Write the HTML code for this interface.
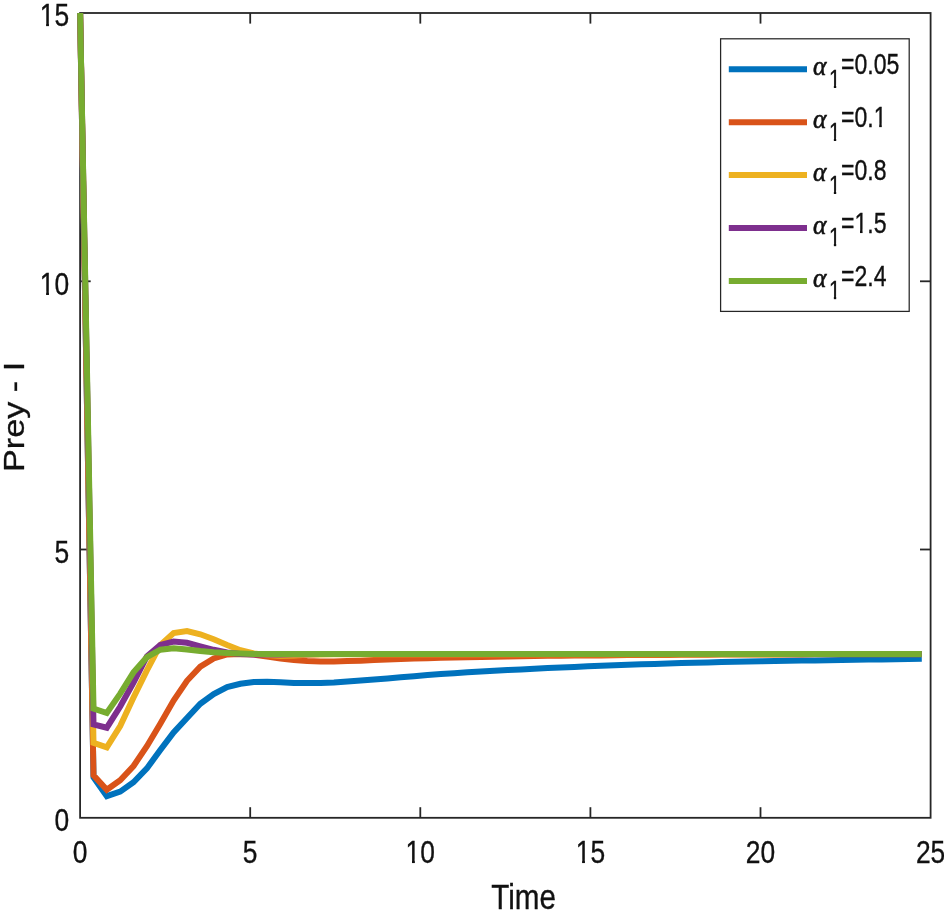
<!DOCTYPE html>
<html lang="en"><head><meta charset="utf-8"><title>Prey - I vs Time</title>
<style>html,body{margin:0;padding:0;background:#fff;}svg{display:block;}text{font-family:"Liberation Sans",Arial,Helvetica,sans-serif;fill:#111111;stroke:#111111;stroke-width:0.35px;}text.al{font-family:"Liberation Serif","DejaVu Serif",serif;font-style:italic;stroke-width:0.6px;}</style></head><body>
<svg width="944" height="920" viewBox="0 0 944 920">
<rect x="0" y="0" width="944" height="920" fill="#ffffff"/>
<defs><clipPath id="ax"><rect x="77.1" y="13.0" width="856.5" height="804.8"/></clipPath><clipPath id="c0"><path d="M-22.52 -31.50H22.52V-3.35H-22.52ZM-9.90 -3.85H-6.52V0.40H-9.90ZM-0.20 -3.85H17.72V12.60H-0.20Z"/></clipPath><clipPath id="c1"><path d="M-22.52 -31.50H22.52V-3.35H-22.52ZM-9.90 -3.85H-6.52V0.40H-9.90ZM-0.20 -3.85H17.72V12.60H-0.20Z"/></clipPath><clipPath id="c2"><path d="M-40.04 -31.50H5.00V-3.35H-40.04ZM-27.42 -3.85H-24.04V0.40H-27.42ZM-17.72 -3.85H0.20V12.60H-17.72Z"/></clipPath><clipPath id="c3"><path d="M-40.04 -31.50H5.00V-3.35H-40.04ZM-27.42 -3.85H-24.04V0.40H-27.42ZM-17.72 -3.85H0.20V12.60H-17.72Z"/></clipPath><clipPath id="c4"><path d="M-5.00 -25.50H19.18V-2.90H-5.00ZM6.11 -3.40H8.96V0.40H6.11Z"/></clipPath><clipPath id="c5"><path d="M-5.00 -28.80H61.86V-3.15H-5.00ZM-0.20 -3.65H17.02V11.52H-0.20ZM16.62 -3.65H33.04V11.52H16.62ZM32.64 -3.65H41.04V11.52H32.64ZM47.78 -3.65H50.92V0.40H47.78Z"/></clipPath><clipPath id="c6"><path d="M-5.00 -28.80H61.86V-3.15H-5.00ZM-0.20 -3.65H17.02V11.52H-0.20ZM23.76 -3.65H26.91V0.40H23.76ZM32.64 -3.65H41.04V11.52H32.64ZM40.64 -3.65H57.06V11.52H40.64Z"/></clipPath></defs>
<g stroke="#262626" stroke-width="1.80" fill="none">
<rect x="80.1" y="13.0" width="850.5" height="804.8"/>
<line x1="250.2" y1="817.8" x2="250.2" y2="807.2"/>
<line x1="250.2" y1="13.0" x2="250.2" y2="23.6"/>
<line x1="420.3" y1="817.8" x2="420.3" y2="807.2"/>
<line x1="420.3" y1="13.0" x2="420.3" y2="23.6"/>
<line x1="590.4" y1="817.8" x2="590.4" y2="807.2"/>
<line x1="590.4" y1="13.0" x2="590.4" y2="23.6"/>
<line x1="760.5" y1="817.8" x2="760.5" y2="807.2"/>
<line x1="760.5" y1="13.0" x2="760.5" y2="23.6"/>
<line x1="80.1" y1="549.5" x2="90.7" y2="549.5"/>
<line x1="930.6" y1="549.5" x2="920.0" y2="549.5"/>
<line x1="80.1" y1="281.3" x2="90.7" y2="281.3"/>
<line x1="930.6" y1="281.3" x2="920.0" y2="281.3"/>
</g>
<g clip-path="url(#ax)" fill="none" stroke-width="6.00" stroke-linejoin="miter" stroke-linecap="butt">
<polyline stroke="#0072BD" points="80.1,13.0 93.5,777.3 106.8,796.2 120.2,791.6 133.5,782.3 146.9,768.4 160.3,750.0 173.6,732.5 187.0,718.0 200.3,703.7 213.7,694.0 227.1,687.0 240.4,683.8 253.8,682.1 267.1,681.8 280.5,682.3 293.9,682.9 307.2,683.1 320.6,682.9 333.9,682.4 347.3,681.5 360.7,680.6 374.0,679.5 387.4,678.4 400.7,677.3 414.1,676.2 427.5,675.1 440.8,674.0 454.2,673.2 467.5,672.3 480.9,671.5 494.2,670.7 507.6,670.0 521.0,669.4 534.3,668.7 547.7,668.0 561.0,667.4 574.4,666.9 587.8,666.3 601.1,665.8 614.5,665.2 627.8,664.8 641.2,664.3 654.6,663.9 667.9,663.5 681.3,663.1 694.6,662.8 708.0,662.4 721.4,662.1 734.7,661.8 748.1,661.5 761.4,661.2 774.8,660.9 788.2,660.8 801.5,660.6 814.9,660.4 828.2,660.2 841.6,660.0 855.0,659.8 868.3,659.6 881.7,659.4 895.0,659.2 908.4,659.0 921.8,658.8"/>
<polyline stroke="#D95319" points="80.1,13.0 93.5,775.3 106.8,789.7 120.2,780.2 133.5,766.0 146.9,746.2 160.3,723.7 173.6,700.5 187.0,680.8 200.3,666.7 213.7,658.5 227.1,654.5 240.4,654.0 253.8,654.6 267.1,656.6 280.5,658.5 293.9,660.0 307.2,661.0 320.6,661.5 333.9,661.5 347.3,661.1 360.7,660.7 374.0,660.1 387.4,659.5 400.7,659.1 414.1,658.6 427.5,658.2 440.8,657.8 454.2,657.5 467.5,657.2 480.9,657.0 494.2,656.7 507.6,656.5 521.0,656.3 534.3,656.1 547.7,655.8 561.0,655.7 574.4,655.6 587.8,655.5 601.1,655.4 614.5,655.2 627.8,655.1 641.2,655.1 654.6,655.0 667.9,654.9 681.3,654.8 694.6,654.7 708.0,654.7 721.4,654.6 734.7,654.6 748.1,654.5 761.4,654.4 774.8,654.4 788.2,654.4 801.5,654.4 814.9,654.3 828.2,654.3 841.6,654.3 855.0,654.3 868.3,654.3 881.7,654.3 895.0,654.2 908.4,654.2 921.8,654.2"/>
<polyline stroke="#EDB120" points="80.1,13.0 93.5,742.8 106.8,747.3 120.2,726.0 133.5,697.5 146.9,670.3 160.3,645.0 173.6,633.0 187.0,631.0 200.3,634.3 213.7,639.3 227.1,645.0 240.4,650.2 253.8,653.5 267.1,655.0 280.5,655.8 293.9,655.4 307.2,654.8 320.6,654.5 333.9,654.3 347.3,654.3 360.7,654.3 374.0,654.3 387.4,654.3 400.7,654.3 414.1,654.3 427.5,654.3 440.8,654.3 454.2,654.3 467.5,654.3 480.9,654.3 494.2,654.2 507.6,654.2 521.0,654.2 534.3,654.2 547.7,654.2 561.0,654.2 574.4,654.2 587.8,654.2 601.1,654.2 614.5,654.2 627.8,654.2 641.2,654.2 654.6,654.2 667.9,654.2 681.3,654.2 694.6,654.2 708.0,654.2 721.4,654.2 734.7,654.2 748.1,654.2 761.4,654.2 774.8,654.2 788.2,654.1 801.5,654.1 814.9,654.1 828.2,654.1 841.6,654.1 855.0,654.1 868.3,654.1 881.7,654.1 895.0,654.1 908.4,654.1 921.8,654.1"/>
<polyline stroke="#7E2F8E" points="80.1,13.0 93.5,724.4 106.8,727.7 120.2,706.5 133.5,682.5 146.9,656.5 160.3,644.9 173.6,641.5 187.0,642.8 200.3,646.3 213.7,649.8 227.1,652.5 240.4,653.9 253.8,654.5 267.1,654.6 280.5,654.4 293.9,654.3 307.2,654.2 320.6,654.1 333.9,654.1 347.3,654.1 360.7,654.1 374.0,654.1 387.4,654.1 400.7,654.1 414.1,654.1 427.5,654.1 440.8,654.1 454.2,654.1 467.5,654.1 480.9,654.1 494.2,654.1 507.6,654.1 521.0,654.1 534.3,654.1 547.7,654.1 561.0,654.1 574.4,654.1 587.8,654.1 601.1,654.1 614.5,654.1 627.8,654.1 641.2,654.0 654.6,654.0 667.9,654.0 681.3,654.0 694.6,654.0 708.0,654.0 721.4,654.0 734.7,654.0 748.1,654.0 761.4,654.0 774.8,654.0 788.2,654.0 801.5,654.0 814.9,654.0 828.2,654.0 841.6,654.0 855.0,654.0 868.3,654.0 881.7,654.0 895.0,654.0 908.4,654.0 921.8,654.0"/>
<polyline stroke="#77AC30" points="80.1,13.0 93.5,708.5 106.8,713.0 120.2,693.7 133.5,672.3 146.9,657.2 160.3,649.7 173.6,648.2 187.0,649.4 200.3,651.0 213.7,652.3 227.1,653.0 240.4,653.5 253.8,654.0 267.1,654.0 280.5,653.9 293.9,653.9 307.2,653.9 320.6,653.9 333.9,653.9 347.3,653.9 360.7,653.9 374.0,653.9 387.4,653.9 400.7,653.9 414.1,653.9 427.5,653.9 440.8,653.9 454.2,653.9 467.5,653.9 480.9,653.9 494.2,653.9 507.6,653.9 521.0,653.9 534.3,653.9 547.7,653.9 561.0,653.9 574.4,653.9 587.8,653.9 601.1,653.9 614.5,653.9 627.8,653.9 641.2,653.9 654.6,653.9 667.9,653.9 681.3,653.9 694.6,653.9 708.0,653.9 721.4,653.9 734.7,653.9 748.1,653.9 761.4,653.9 774.8,653.9 788.2,653.9 801.5,653.9 814.9,653.9 828.2,653.9 841.6,653.9 855.0,653.9 868.3,653.9 881.7,653.9 895.0,653.9 908.4,653.9 921.8,653.9"/>
</g>
<text transform="translate(80.1,862.9) scale(0.838,1)" font-size="31.5" text-anchor="middle">0</text>
<text transform="translate(250.2,862.9) scale(0.838,1)" font-size="31.5" text-anchor="middle">5</text>
<text transform="translate(420.3,862.9) scale(0.838,1)" font-size="31.5" text-anchor="middle" clip-path="url(#c0)">10</text>
<text transform="translate(590.4,862.9) scale(0.838,1)" font-size="31.5" text-anchor="middle" clip-path="url(#c1)">15</text>
<text transform="translate(760.5,862.9) scale(0.838,1)" font-size="31.5" text-anchor="middle">20</text>
<text transform="translate(930.6,862.9) scale(0.838,1)" font-size="31.5" text-anchor="middle">25</text>
<text transform="translate(69.1,831.0) scale(0.838,1)" font-size="31.5" text-anchor="end">0</text>
<text transform="translate(69.1,562.7) scale(0.838,1)" font-size="31.5" text-anchor="end">5</text>
<text transform="translate(69.1,294.5) scale(0.838,1)" font-size="31.5" text-anchor="end" clip-path="url(#c2)">10</text>
<text transform="translate(69.1,26.2) scale(0.838,1)" font-size="31.5" text-anchor="end" clip-path="url(#c3)">15</text>
<text transform="translate(523.5,909.0) scale(0.851,1)" font-size="34.8" text-anchor="middle">Time</text>
<text transform="translate(23.9,416.9) scale(0.853,1) rotate(-90)" font-size="34.2" text-anchor="middle">Prey - I</text>
<rect x="720.6" y="38.8" width="188.6" height="272.6" fill="#fff" stroke="#262626" stroke-width="1.25"/>
<line x1="728.8" y1="69.3" x2="807.0" y2="69.3" stroke="#0072BD" stroke-width="6.0"/>
<text transform="translate(813.0,74.9) scale(0.950,1)" font-size="27.0" class="al">α</text>
<text transform="translate(829.0,87.7) scale(0.800,1)" font-size="25.5" clip-path="url(#c4)">1</text>
<text transform="translate(841.0,74.1) scale(0.800,1)" font-size="28.8">=0.05</text>
<line x1="728.8" y1="122.2" x2="807.0" y2="122.2" stroke="#D95319" stroke-width="6.0"/>
<text transform="translate(813.0,127.8) scale(0.950,1)" font-size="27.0" class="al">α</text>
<text transform="translate(829.0,140.6) scale(0.800,1)" font-size="25.5" clip-path="url(#c4)">1</text>
<text transform="translate(841.0,127.0) scale(0.800,1)" font-size="28.8" clip-path="url(#c5)">=0.1</text>
<line x1="728.8" y1="175.1" x2="807.0" y2="175.1" stroke="#EDB120" stroke-width="6.0"/>
<text transform="translate(813.0,180.7) scale(0.950,1)" font-size="27.0" class="al">α</text>
<text transform="translate(829.0,193.5) scale(0.800,1)" font-size="25.5" clip-path="url(#c4)">1</text>
<text transform="translate(841.0,179.9) scale(0.800,1)" font-size="28.8">=0.8</text>
<line x1="728.8" y1="228.0" x2="807.0" y2="228.0" stroke="#7E2F8E" stroke-width="6.0"/>
<text transform="translate(813.0,233.6) scale(0.950,1)" font-size="27.0" class="al">α</text>
<text transform="translate(829.0,246.4) scale(0.800,1)" font-size="25.5" clip-path="url(#c4)">1</text>
<text transform="translate(841.0,232.8) scale(0.800,1)" font-size="28.8" clip-path="url(#c6)">=1.5</text>
<line x1="728.8" y1="280.9" x2="807.0" y2="280.9" stroke="#77AC30" stroke-width="6.0"/>
<text transform="translate(813.0,286.5) scale(0.950,1)" font-size="27.0" class="al">α</text>
<text transform="translate(829.0,299.3) scale(0.800,1)" font-size="25.5" clip-path="url(#c4)">1</text>
<text transform="translate(841.0,285.7) scale(0.800,1)" font-size="28.8">=2.4</text>
</svg></body></html>
